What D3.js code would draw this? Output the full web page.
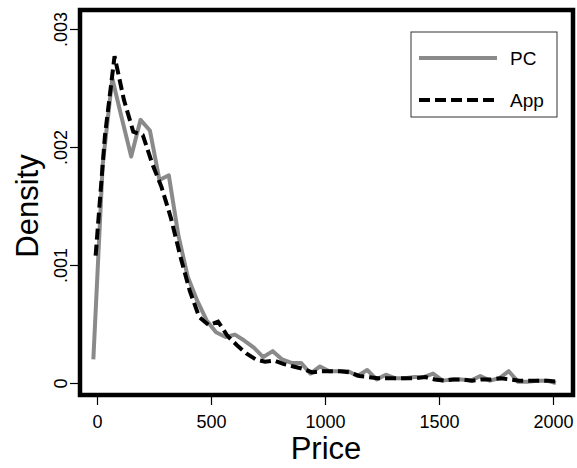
<!DOCTYPE html>
<html>
<head>
<meta charset="utf-8">
<script src="https://cdn.jsdelivr.net/npm/d3@7"></script>
<style>
  body { margin: 0; background: #fff; }
  text { font-family: "Liberation Sans", Arial, sans-serif; }
</style>
</head>
<body>
<svg id="chart"></svg>
<script>
// density evaluated on a 50-point grid for each device
const pcPrice = [-16, 25, 67, 108, 150, 191, 232, 274, 315, 357,
  398, 439, 481, 522, 564, 605, 646, 688, 729, 771,
  812, 853, 895, 936, 978, 1019, 1060, 1102, 1143, 1185,
  1226, 1267, 1309, 1350, 1392, 1433, 1474, 1516, 1557, 1599,
  1640, 1681, 1723, 1764, 1806, 1847, 1888, 1930, 1971, 2013];
const pcDensity = [0.0002, 0.00185, 0.00258, 0.00225, 0.00192, 0.00223, 0.00214, 0.00172, 0.00176, 0.00125,
  0.0009, 0.0007, 0.00053, 0.00043, 0.00039, 0.00041, 0.00036, 0.0003, 0.00022, 0.00027,
  0.0002, 0.00017, 0.00017, 0.00008, 0.00014, 0.0001, 0.0001, 0.0001, 0.00006, 0.00011,
  0.00003, 0.00007, 0.00004, 0.00004, 0.00005, 0.00005, 0.00008, 0.00002, 0.00003, 0.00003,
  0.00002, 0.00006, 0.00002, 0.00004, 0.0001, 0.00001, 0.00001, 0.00002, 0.00002, 0.0];

const appPrice = [-6, 35, 77, 118, 159, 201, 242, 283, 324, 366,
  407, 448, 490, 531, 572, 614, 655, 696, 737, 779,
  820, 861, 903, 944, 985, 1027, 1068, 1109, 1151, 1192,
  1233, 1275, 1316, 1357, 1398, 1440, 1481, 1522, 1564, 1605,
  1646, 1688, 1729, 1770, 1811, 1853, 1894, 1935, 1977, 2018];
const appDensity = [0.00108, 0.0021, 0.00277, 0.0024, 0.00213, 0.0021, 0.00186, 0.00166, 0.0014, 0.00107,
  0.00078, 0.00056, 0.00049, 0.00052, 0.0004, 0.00032, 0.00025, 0.0002, 0.00018, 0.00019,
  0.00016, 0.00014, 0.00012, 0.00009, 0.0001, 0.0001, 0.0001, 0.00009, 0.00006, 0.00005,
  0.00004, 0.00004, 0.00004, 0.00004, 0.00004, 0.00005, 0.00003, 0.00002, 0.00003, 0.00003,
  0.00002, 0.00003, 0.00003, 0.00004, 0.00003, 0.00002, 0.00002, 0.00002, 0.00002, 0.00001];

const xTicks = [0, 500, 1000, 1500, 2000];
const yTicks = [0, 0.001, 0.002, 0.003];
const seriesNames = ["PC", "App"];

const width = 577, height = 468;
const frame = { left: 80, right: 573, top: 10, bottom: 395 };
const grey = "#8a8a8a";

const svg = d3.select("#chart").attr("width", width).attr("height", height);

const x = d3.scaleLinear().domain([0, 2000]).range([97, 553]);
const y = d3.scaleLinear().domain([0, 0.003]).range([383, 29]);

// lines
const line = d3.line().x(d => x(d[0])).y(d => y(d[1]));

svg.append("path")
  .datum(d3.zip(pcPrice, pcDensity))
  .attr("fill", "none")
  .attr("stroke", grey)
  .attr("stroke-width", 4)
  .attr("stroke-linejoin", "round")
  .attr("d", line);

svg.append("path")
  .datum(d3.zip(appPrice, appDensity))
  .attr("fill", "none")
  .attr("stroke", "#000")
  .attr("stroke-width", 4)
  .attr("stroke-dasharray", "11,5")
  .attr("d", line);

// frame
svg.append("rect")
  .attr("x", frame.left).attr("y", frame.top)
  .attr("width", frame.right - frame.left)
  .attr("height", frame.bottom - frame.top)
  .attr("fill", "none")
  .attr("stroke", "#000")
  .attr("stroke-width", 4.5);

// x axis
const xAxis = svg.append("g")
  .attr("transform", `translate(0,${frame.bottom})`)
  .call(d3.axisBottom(x).tickValues(xTicks).tickSize(10).tickPadding(10)
    .tickFormat(d3.format("d")));
xAxis.select(".domain").remove();
xAxis.selectAll("line").attr("stroke", "#000").attr("stroke-width", 1.2);
xAxis.selectAll("text").attr("font-size", 18).attr("fill", "#000")
  .style("font-family", "'Liberation Sans', Arial, sans-serif");

// y axis, labels rotated
const yAxis = svg.append("g")
  .attr("transform", `translate(${frame.left},0)`)
  .call(d3.axisLeft(y).tickValues(yTicks).tickSize(10)
    .tickFormat(d => d === 0 ? "0" : d3.format(".3f")(d).replace(/^0/, "")));
yAxis.select(".domain").remove();
yAxis.selectAll("line").attr("stroke", "#000").attr("stroke-width", 1.2);
yAxis.selectAll("text")
  .attr("x", 0).attr("dy", 0)
  .attr("transform", "translate(-13,0) rotate(-90)")
  .attr("text-anchor", "middle")
  .attr("font-size", 18).attr("fill", "#000")
  .style("font-family", "'Liberation Sans', Arial, sans-serif");

// axis titles
svg.append("text")
  .attr("x", 326).attr("y", 459)
  .attr("text-anchor", "middle")
  .attr("font-size", 31)
  .text("Price");

svg.append("text")
  .attr("transform", "translate(38,206) rotate(-90)")
  .attr("text-anchor", "middle")
  .attr("font-size", 31)
  .text("Density");

// legend
const legend = svg.append("g");
legend.append("rect")
  .attr("x", 411).attr("y", 32).attr("width", 146).attr("height", 85)
  .attr("fill", "#fff").attr("stroke", "#333").attr("stroke-width", 1);

const legendRows = [
  { name: seriesNames[0], y: 58, stroke: grey, dash: null },
  { name: seriesNames[1], y: 100, stroke: "#000", dash: "11,5" }
];
legendRows.forEach(r => {
  legend.append("line")
    .attr("x1", 419).attr("x2", 497).attr("y1", r.y).attr("y2", r.y)
    .attr("stroke", r.stroke).attr("stroke-width", 4)
    .attr("stroke-dasharray", r.dash);
  legend.append("text")
    .attr("x", 510).attr("y", r.y + 7)
    .attr("font-size", 19)
    .text(r.name);
});
</script>
</body>
</html>
